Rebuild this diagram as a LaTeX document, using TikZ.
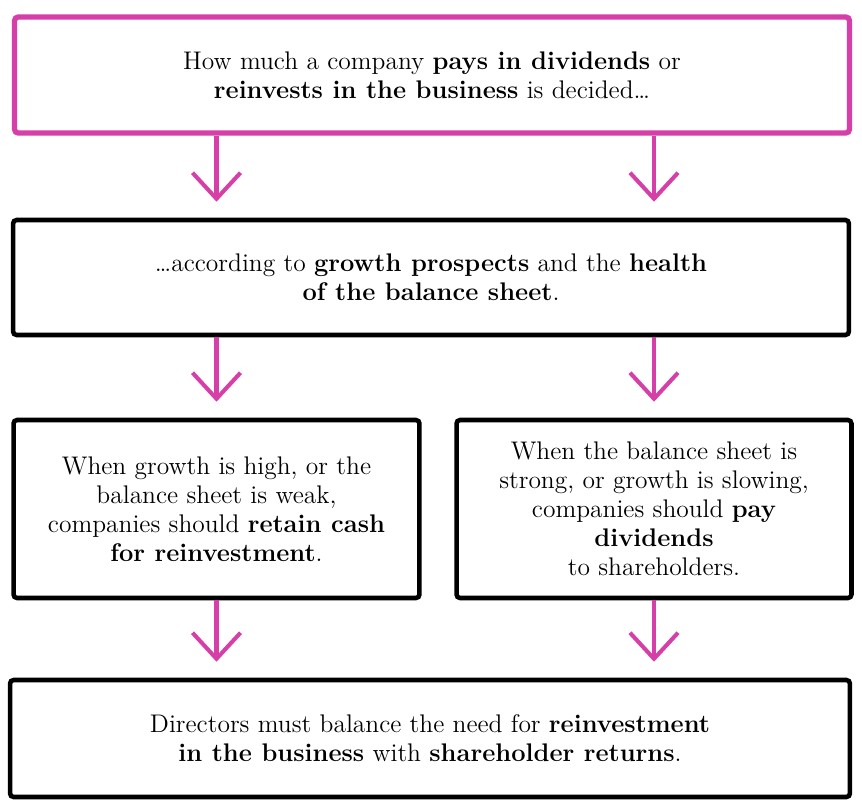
\documentclass[tikz,border=0pt]{standalone}
\usetikzlibrary{arrows.meta}
\definecolor{flowpink}{RGB}{214,62,168}
\tikzset{
  box/.style={draw=black, line width=2.6pt, fill=white, align=center,
    rounded corners=2pt, inner sep=0pt, font=\fontsize{14.5}{16.5}\selectfont},
  pinkbox/.style={box, draw=flowpink, line width=3pt},
  flow/.style={draw=flowpink, line width=2.3pt,
    -{Straight Barb[length=5.2mm, width=9.6mm, line width=2.3pt]}, shorten >=3.2mm}
}
\begin{document}
\begin{tikzpicture}[x=0.02cm, y=-0.02cm]
  \useasboundingbox (0,0) rectangle (862,801);
  \node[pinkbox, minimum width=16.7cm, minimum height=2.32cm] (top) at (432,75)
    {How much a company \textbf{pays in dividends} or\\
     \textbf{reinvests in the business} is decided\dots};
  \node[box, minimum width=16.72cm, minimum height=2.3cm] (how) at (431,277.5)
    {\dots according to \textbf{growth prospects} and the \textbf{health}\\
     \textbf{of the balance sheet}.};
  \node[box, minimum width=8.12cm, minimum height=3.56cm] (retain) at (216.5,509)
    {When growth is high, or the\\ balance sheet is weak,\\
     companies should \textbf{retain cash}\\ \textbf{for reinvestment}.};
  \node[box, minimum width=7.9cm, minimum height=3.56cm] (pay) at (654,509)
    {When the balance sheet is\\ strong, or growth is slowing,\\
     companies should \textbf{pay}\\ \textbf{dividends}\\ to shareholders.};
  \node[box, minimum width=16.8cm, minimum height=2.34cm] (bal) at (430,738.5)
    {Directors must balance the need for \textbf{reinvestment}\\
     \textbf{in the business} with \textbf{shareholder returns}.};
  % arrows
  \draw[flow] (top.south -| retain) -- (how.north -| retain);
  \draw[flow] (top.south -| pay) -- (how.north -| pay);
  \draw[flow] (how.south -| retain) -- (retain.north);
  \draw[flow] (how.south -| pay) -- (pay.north);
  \draw[flow] (retain.south) -- (bal.north -| retain);
  \draw[flow] (pay.south) -- (bal.north -| pay);
\end{tikzpicture}
\end{document}
